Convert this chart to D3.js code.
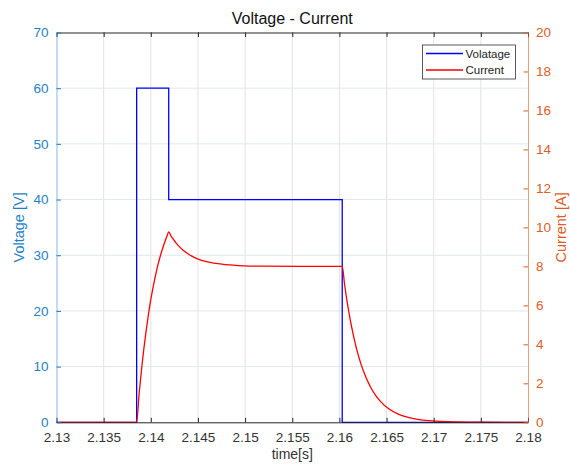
<!DOCTYPE html>
<html>
<head>
<meta charset="utf-8">
<script src="https://cdn.jsdelivr.net/npm/d3@7"></script>
<style>
  html, body { margin: 0; padding: 0; background: #fff; }
  svg { display: block; font-family: "Liberation Sans", Arial, Helvetica, sans-serif; }
</style>
</head>
<body>
<svg id="chart" width="570" height="466"></svg>
<script>
// Voltage step profile (time in s, voltage in V)
const voltageTime = [2.13, 2.1385, 2.1385, 2.1419, 2.1419, 2.1603, 2.1603, 2.18];
const voltageVals = [0, 0, 60, 60, 40, 40, 0, 0];

// Coil current (time in s, current in A)
const currentTime = [
  2.13, 2.1385, 2.13875, 2.139, 2.13925, 2.1395, 2.13975, 2.14, 2.14025, 2.1405,
  2.14075, 2.141, 2.14125, 2.1415, 2.14175, 2.1419,
  2.14215, 2.1424, 2.14265, 2.1429, 2.1434, 2.1439, 2.1444, 2.1449, 2.1459,
  2.1469, 2.1479, 2.1499, 2.1519, 2.1603,
  2.16055, 2.1608, 2.16105, 2.1613, 2.1618, 2.1623, 2.1628, 2.1633, 2.1638,
  2.1643, 2.1653, 2.1663, 2.1673, 2.1683, 2.1703, 2.1723, 2.1753, 2.18
];
const currentVals = [
  0, 0, 1.40, 2.63, 3.72, 4.68, 5.54, 6.29, 6.95, 7.54,
  8.06, 8.52, 8.92, 9.28, 9.60, 9.77,
  9.56, 9.38, 9.22, 9.08, 8.84, 8.66, 8.51, 8.40, 8.24,
  8.15, 8.09, 8.03, 8.01, 8.0,
  7.07, 6.25, 5.52, 4.88, 3.81, 2.97, 2.32, 1.81, 1.41,
  1.10, 0.67, 0.41, 0.25, 0.15, 0.056, 0.021, 0.004, 0
];

const xTicks = [2.13, 2.135, 2.14, 2.145, 2.15, 2.155, 2.16, 2.165, 2.17, 2.175, 2.18];
const leftTicks = [0, 10, 20, 30, 40, 50, 60, 70];
const rightTicks = [0, 2, 4, 6, 8, 10, 12, 14, 16, 18, 20];
const seriesNames = ["Volatage", "Current"];

const leftColor = "#1f7fc4";
const rightColor = "#dd5d27";
const axisDark = "#262626";

const svg = d3.select("#chart");
const m = { left: 56.5, right: 528, top: 32.5, bottom: 422.3 };

const x = d3.scaleLinear().domain([2.13, 2.18]).range([m.left, m.right]);
const yL = d3.scaleLinear().domain([0, 70]).range([m.bottom, m.top]);
const yR = d3.scaleLinear().domain([0, 20]).range([m.bottom, m.top]);

const tickLen = 4.5;

// background
svg.append("rect").attr("x", m.left).attr("y", m.top)
  .attr("width", m.right - m.left).attr("height", m.bottom - m.top)
  .attr("fill", "#fff");

// grid
const grid = svg.append("g");
grid.selectAll("line.v").data(xTicks.slice(1, -1)).join("line")
  .attr("x1", d => x(d)).attr("x2", d => x(d))
  .attr("y1", m.top).attr("y2", m.bottom)
  .attr("stroke", "#e3e3e3").attr("stroke-width", 1);
grid.selectAll("line.h").data(leftTicks.slice(1, -1)).join("line")
  .attr("y1", d => yL(d)).attr("y2", d => yL(d))
  .attr("x1", m.left).attr("x2", m.right)
  .attr("stroke", "#dde8f1").attr("stroke-width", 1);

// data lines
const vData = voltageTime.map((t, i) => [t, voltageVals[i]]);
const cData = currentTime.map((t, i) => [t, currentVals[i]]);

svg.append("path").datum(vData)
  .attr("d", d3.line().x(d => x(d[0])).y(d => yL(d[1])))
  .attr("fill", "none").attr("stroke", "#0000ff").attr("stroke-width", 1.3);

svg.append("path").datum(cData)
  .attr("d", d3.line().x(d => x(d[0])).y(d => yR(d[1])).curve(d3.curveMonotoneX))
  .attr("fill", "none").attr("stroke", "#ff0000").attr("stroke-width", 1.3);

// bottom axis
const axB = d3.axisBottom(x).tickValues(xTicks).tickSizeInner(-tickLen).tickSizeOuter(0)
  .tickPadding(10).tickFormat(d3.format("~g"));
const gB = svg.append("g").attr("transform", `translate(0,${m.bottom})`).call(axB);
gB.select(".domain").attr("stroke", axisDark);
gB.selectAll(".tick line").attr("stroke", axisDark);
gB.selectAll(".tick text").attr("fill", "#333").attr("font-size", 13.5)
  .attr("font-family", "Liberation Sans, Arial, sans-serif");

// top axis (ticks only)
const axT = d3.axisTop(x).tickValues(xTicks).tickSizeInner(-tickLen).tickSizeOuter(0).tickFormat("");
const gT = svg.append("g").attr("transform", `translate(0,${m.top})`).call(axT);
gT.select(".domain").attr("stroke", axisDark);
gT.selectAll(".tick line").attr("stroke", axisDark);

// left axis
const axL = d3.axisLeft(yL).tickValues(leftTicks).tickSizeInner(-tickLen).tickSizeOuter(0).tickPadding(8);
const gL = svg.append("g").attr("transform", `translate(${m.left},0)`).call(axL);
gL.select(".domain").attr("stroke", leftColor).attr("stroke-opacity", 0.55);
gL.selectAll(".tick line").attr("stroke", leftColor);
gL.selectAll(".tick text").attr("fill", leftColor).attr("font-size", 13.5)
  .attr("font-family", "Liberation Sans, Arial, sans-serif");

// right axis
const axR = d3.axisRight(yR).tickValues(rightTicks).tickSizeInner(-tickLen).tickSizeOuter(0).tickPadding(8);
const gR = svg.append("g").attr("transform", `translate(${m.right},0)`).call(axR);
gR.select(".domain").attr("stroke", rightColor).attr("stroke-opacity", 0.6);
gR.selectAll(".tick line").attr("stroke", rightColor);
gR.selectAll(".tick text").attr("fill", rightColor).attr("font-size", 13.5)
  .attr("font-family", "Liberation Sans, Arial, sans-serif");

// titles and labels
svg.append("text").attr("x", (m.left + m.right) / 2).attr("y", 24)
  .attr("text-anchor", "middle").attr("font-size", 16).attr("fill", "#111")
  .text("Voltage - Current");

svg.append("text").attr("x", (m.left + m.right) / 2).attr("y", 459)
  .attr("text-anchor", "middle").attr("font-size", 14).attr("fill", "#333")
  .text("time[s]");

svg.append("text")
  .attr("transform", `translate(24,${(m.top + m.bottom) / 2}) rotate(-90)`)
  .attr("text-anchor", "middle").attr("font-size", 14.5).attr("fill", leftColor)
  .text("Voltage [V]");

svg.append("text")
  .attr("transform", `translate(566,${(m.top + m.bottom) / 2}) rotate(-90)`)
  .attr("text-anchor", "middle").attr("font-size", 14.5).attr("fill", rightColor)
  .text("Current [A]");

// legend
const lg = svg.append("g").attr("transform", "translate(422.5,45)");
lg.append("rect").attr("width", 93).attr("height", 34)
  .attr("fill", "#fff").attr("stroke", "#333").attr("stroke-width", 0.8);
const legendColors = ["#0000ff", "#ff0000"];
seriesNames.forEach((name, i) => {
  const yy = 8.5 + i * 16.5;
  lg.append("line").attr("x1", 3.5).attr("x2", 40.5).attr("y1", yy).attr("y2", yy)
    .attr("stroke", legendColors[i]).attr("stroke-width", 1.3);
  lg.append("text").attr("x", 43).attr("y", yy + 4).attr("font-size", 11.5)
    .attr("fill", "#222").text(name);
});
</script>
</body>
</html>
